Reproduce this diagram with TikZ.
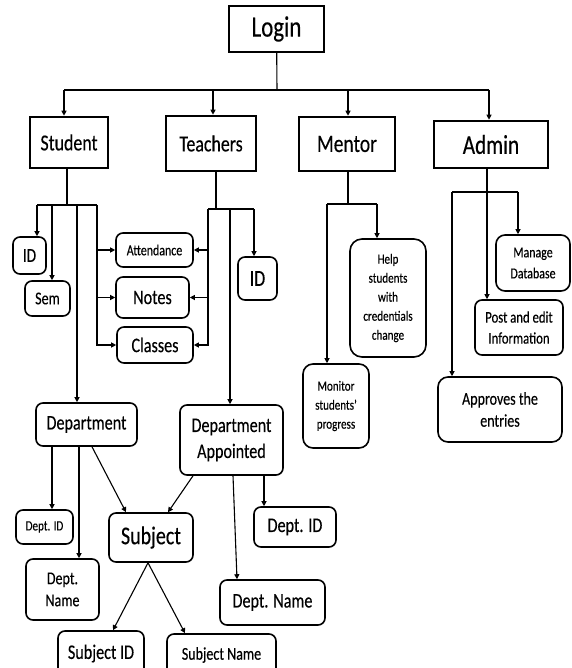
\documentclass[tikz,border=0pt]{standalone}
\usepackage{fontspec}
\setmainfont{Carlito}[FakeStretch=0.78, FakeBold=0.3]
\usetikzlibrary{arrows.meta, positioning}

\begin{document}
\begin{tikzpicture}[x=1pt, y=-1pt,
    fs/.style n args={2}{font=\fontsize{#1}{#2}\selectfont},
    head/.style={draw, line width=2.6pt, inner sep=0pt, fs={22.9}{25}},
    leaf/.style={draw, rounded corners=7pt, line width=1.6pt, inner sep=0pt, align=center},
    link/.style={line width=1.1pt},
    arr/.style={link, -{Triangle[length=5pt, width=5pt]}}]
    \useasboundingbox (0,0) rectangle (571,668);
    \clip (0,0) rectangle (571,668);

    % roles
    \node[head, line width=2pt, minimum width=95pt, minimum height=46pt, fs={29.4}{32}] (login) at (276.5,29) {Login};
    \node[head, minimum width=78pt, minimum height=51pt] (student) at (69,142.5) {Student};
    \node[head, minimum width=90pt, minimum height=55pt] (teachers) at (211,143.5) {Teachers};
    \node[head, minimum width=96pt, minimum height=54pt, fs={25}{28}] (mentor) at (347,144) {Mentor};
    \node[head, minimum width=114pt, minimum height=47pt, fs={27.2}{30}] (admin) at (491,144.5) {Admin};

    % student / teacher details
    \node[leaf, minimum width=33pt, minimum height=37pt, fs={19.6}{22}] (sid) at (29.5,255.5) {ID};
    \node[leaf, minimum width=45pt, minimum height=35pt, fs={18}{20}] (sem) at (47.5,298.5) {Sem};
    \node[leaf, minimum width=77pt, minimum height=34pt, fs={15.3}{17}] (attend) at (154.5,250) {Attendance};
    \node[leaf, minimum width=73pt, minimum height=41pt, fs={20.7}{23}] (notes) at (152.5,297.5) {Notes};
    \node[leaf, minimum width=76pt, minimum height=36pt, fs={20.7}{23}] (classes) at (155,345) {Classes};
    \node[leaf, minimum width=39pt, minimum height=43pt, fs={22.9}{25}] (tid) at (257.5,278.5) {ID};
    \node[leaf, minimum width=101pt, minimum height=43pt, fs={20.7}{23}] (dept) at (86.5,424.5) {Department};
    \node[leaf, minimum width=103pt, minimum height=70pt, fs={20.7}{26}] (deptapp) at (231.5,440) {Department\\Appointed};
    \node[leaf, minimum width=57pt, minimum height=34pt, fs={14.2}{16}] (did1) at (44.5,527) {Dept. ID};
    \node[leaf, minimum width=73pt, minimum height=61pt, fs={18}{22}] (dname1) at (62.5,589.5) {Dept.\\Name};
    \node[leaf, minimum width=84pt, minimum height=49pt, fs={25.6}{28}] (subject) at (151,537.5) {Subject};
    \node[leaf, minimum width=82pt, minimum height=40pt, fs={20.7}{23}] (did2) at (295,527) {Dept. ID};
    \node[leaf, minimum width=105pt, minimum height=45pt, fs={20.7}{23}] (dname2) at (272.5,602.5) {Dept. Name};
    \node[leaf, minimum width=86pt, minimum height=45pt, fs={20.7}{23}] (subid) at (101,653.5) {Subject ID};
    \node[leaf, minimum width=109pt, minimum height=42pt, fs={18}{20}] (subname) at (221.5,655) {Subject Name};

    % mentor / admin details
    \node[leaf, rounded corners=12pt, minimum width=76pt, minimum height=118pt, fs={14.2}{19}] (help) at (388,298) {Help\\students\\with\\credentials\\change};
    \node[leaf, rounded corners=10pt, minimum width=66pt, minimum height=84pt, fs={14.2}{19}] (monitor) at (336,406) {Monitor\\students'\\progress};
    \node[leaf, rounded corners=9pt, minimum width=74pt, minimum height=56pt, fs={15.3}{21}] (manage) at (533,263) {Manage\\Database};
    \node[leaf, minimum width=88pt, minimum height=55pt, fs={16.3}{21}] (post) at (519,327.5) {Post and edit\\Information};
    \node[leaf, rounded corners=10pt, minimum width=124pt, minimum height=65pt, fs={18}{22}] (approves) at (500,409.5) {Approves the\\entries};

    % login bar
    \coordinate (lj) at (277,90);
    \coordinate (l1) at (64,90);
    \coordinate (l2) at (213,90);
    \coordinate (l3) at (348,90);
    \coordinate (l4) at (489,90);
    \draw[link] (login) -- (lj);
    \draw[link] (l1) -- (l4);
    \draw[arr] (l1) -- (l1 |- student.north);
    \draw[arr] (l2) -- (l2 |- teachers.north);
    \draw[arr] (l3) -- (l3 |- mentor.north);
    \draw[arr] (l4) -- (l4 |- admin.north);

    % student branches
    \coordinate (s0) at (67,205);
    \coordinate (s1) at (37,205);
    \coordinate (s2) at (52,205);
    \coordinate (s3) at (77,205);
    \coordinate (s4) at (97,205);
    \draw[link] (s0 |- student.south) -- (s0);
    \draw[link] (s1) -- (s4);
    \draw[arr] (s1) -- (s1 |- sid.north);
    \draw[arr] (s2) -- (s2 |- sem.north);
    \draw[arr] (s3) -- (s3 |- dept.north);
    \draw[arr] (s4) |- (classes);
    \draw[arr] (s4 |- attend) -- (attend);
    \draw[arr] (s4 |- notes) -- (notes);

    % teacher branches
    \coordinate (t0) at (216,209);
    \coordinate (t1) at (208,209);
    \coordinate (t2) at (230,209);
    \coordinate (t3) at (254,209);
    \draw[link] (t0 |- teachers.south) -- (t0);
    \draw[link] (t1) -- (t3);
    \draw[arr] (t1) |- (classes);
    \draw[arr] (t1 |- attend) -- (attend);
    \draw[arr] (t1 |- notes) -- (notes);
    \draw[arr] (t2) -- (t2 |- deptapp.north);
    \draw[arr] (t3) -- (t3 |- tid.north);

    % mentor branches
    \coordinate (m0) at (348,204);
    \coordinate (m1) at (327,204);
    \coordinate (m2) at (377,204);
    \draw[link] (m0 |- mentor.south) -- (m0);
    \draw[link] (m1) -- (m2);
    \draw[arr] (m1) -- (m1 |- monitor.north);
    \draw[arr] (m2) -- (m2 |- help.north);

    % admin branches
    \coordinate (a0) at (487,192);
    \coordinate (a1) at (452,192);
    \coordinate (a2) at (518,192);
    \draw[arr] (a0 |- admin.south) -- (a0 |- post.north);
    \draw[link] (a1) -- (a2);
    \draw[arr] (a1) -- (a1 |- approves.north);
    \draw[arr] (a2) -- (a2 |- manage.north);

    % departments and subject
    \coordinate (d1) at (52,0);
    \coordinate (d2) at (79,0);
    \coordinate (e1) at (264,0);
    \draw[arr] (d1 |- dept.south) -- (d1 |- did1.north);
    \draw[arr] (d2 |- dept.south) -- (d2 |- dname1.north);
    \draw[arr] ([xshift=5.5pt]dept.south) -- ([xshift=-25pt]subject.north);
    \draw[arr] ([xshift=-38.5pt]deptapp.south) -- ([xshift=17pt]subject.north);
    \draw[arr] (e1 |- deptapp.south) -- (e1 |- did2.north);
    \draw[arr] ([xshift=1.5pt]deptapp.south) -- ([xshift=-35.5pt]dname2.north);
    \draw[arr] ([xshift=-3pt]subject.south) -- ([xshift=12pt]subid.north);
    \draw[arr] ([xshift=-3pt]subject.south) -- ([xshift=-36.5pt]subname.north);
\end{tikzpicture}
\end{document}
